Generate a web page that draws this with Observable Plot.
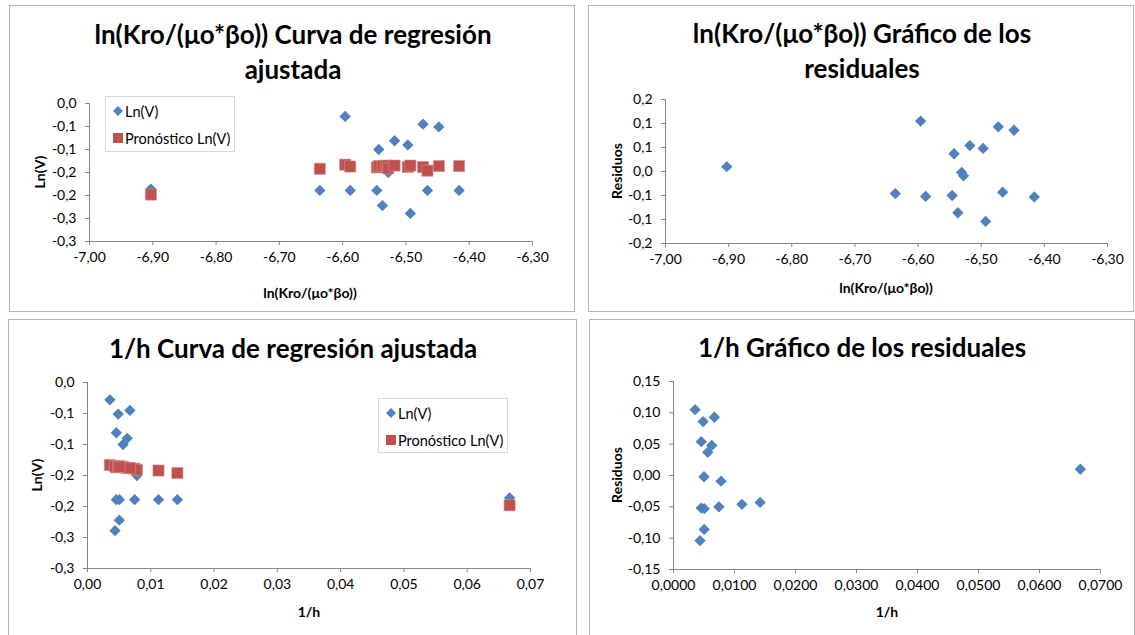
<!DOCTYPE html>
<html>
<head>
<meta charset="utf-8">
<script src="https://cdn.jsdelivr.net/npm/d3@7"></script>
<script src="https://cdn.jsdelivr.net/npm/@observablehq/plot@0.6"></script>
<style>
  html, body { margin: 0; padding: 0; background: #fff; }
  #page { position: relative; width: 1135px; height: 635px; overflow: hidden; background: #fff; font-family: Lato, "Open Sans", sans-serif; }
  .panel { position: absolute; box-sizing: border-box; border: 1px solid #b5b5b5; background: #fff; }
  .plotwrap { position: absolute; }
  .title { position: absolute; text-align: center; font-weight: bold; font-size: 26px; line-height: 35px; color: #000; white-space: nowrap; transform: translateX(-50%); }
  .xtitle { position: absolute; font-weight: bold; font-size: 14px; color: #000; white-space: nowrap; transform: translate(-50%, -50%); }
  .ytitle { position: absolute; font-weight: bold; font-size: 14px; color: #000; white-space: nowrap; transform: translate(-50%, -50%) rotate(-90deg); }
  .legend { position: absolute; box-sizing: border-box; border: 1px solid #d9d9d9; background: #fff; }
  .litem { position: absolute; left: 0; font-size: 14.5px; color: #000; white-space: nowrap; }
  .ltext { position: absolute; transform: translateY(-50%); }
  .mk-diamond { position: absolute; width: 7px; height: 7px; background: #4F81BD; transform: translate(-50%, -50%) rotate(45deg); }
  .mk-square { position: absolute; width: 10px; height: 10px; background: #C0504D; transform: translate(-50%, -50%); }
</style>
</head>
<body>
<div id="page"></div>
<script>
// ---------------- DATA ----------------
const lnKroMuBo = [-6.903, -6.596, -6.636, -6.588, -6.546, -6.543, -6.537, -6.531, -6.528, -6.518, -6.497, -6.493, -6.473, -6.466, -6.448, -6.416];
const invH      = [0.0667, 0.00354, 0.01122, 0.00455, 0.00745, 0.00562, 0.00503, 0.00500, 0.00780, 0.00456, 0.00628, 0.00435, 0.00670, 0.01420, 0.00485, 0.00505];
const lnV       = [-0.186, -0.028, -0.189, -0.189, -0.189, -0.100, -0.222, -0.136, -0.150, -0.081, -0.090, -0.239, -0.045, -0.189, -0.051, -0.189];
const pronosticoLnV = [-0.198, -0.133, -0.142, -0.137, -0.139, -0.136, -0.136, -0.135, -0.141, -0.135, -0.138, -0.135, -0.138, -0.146, -0.136, -0.136];
const residuos  = [0.010, 0.105, -0.046, -0.052, -0.050, 0.037, -0.086, -0.002, -0.009, 0.054, 0.048, -0.104, 0.093, -0.043, 0.086, -0.053];

// tick values and their labels (as printed in the reference)
const xTicksLn = [-7.0, -6.9, -6.8, -6.7, -6.6, -6.5, -6.4, -6.3];
const xTickLabelsLn = ["-7,00", "-6,90", "-6,80", "-6,70", "-6,60", "-6,50", "-6,40", "-6,30"];
const xTicksH = [0, 0.01, 0.02, 0.03, 0.04, 0.05, 0.06, 0.07];
const xTickLabelsH2 = ["0,00", "0,01", "0,02", "0,03", "0,04", "0,05", "0,06", "0,07"];
const xTickLabelsH4 = ["0,0000", "0,0100", "0,0200", "0,0300", "0,0400", "0,0500", "0,0600", "0,0700"];
const yTicksLnV = [0, -0.05, -0.1, -0.15, -0.2, -0.25, -0.3];
const yTickLabelsLnV = ["0,0", "-0,1", "-0,1", "-0,2", "-0,2", "-0,3", "-0,3"];
const yTicksRes = [0.15, 0.1, 0.05, 0, -0.05, -0.1, -0.15];
const yTickLabelsRes1 = ["0,2", "0,1", "0,1", "0,0", "-0,1", "-0,1", "-0,2"];
const yTickLabelsRes2 = ["0,15", "0,10", "0,05", "0,00", "-0,05", "-0,10", "-0,15"];

const titles = [
  ["ln(Kro/(\u03bco*\u03b2o)) Curva de regresi\u00f3n", "ajustada"],
  ["ln(Kro/(\u03bco*\u03b2o)) Gr\u00e1fico de los", "residuales"],
  ["1/h Curva de regresi\u00f3n ajustada"],
  ["1/h Gr\u00e1fico de los residuales"]
];
const xTitles = ["ln(Kro/(\u03bco*\u03b2o))", "ln(Kro/(\u03bco*\u03b2o))", "1/h", "1/h"];
const yTitles = ["Ln(V)", "Residuos", "Ln(V)", "Residuos"];
const seriesNames = ["Ln(V)", "Pron\u00f3stico Ln(V)"];

// ---------------- BUILD ----------------
const rows = lnKroMuBo.map((x, i) => ({x1: x, x2: invH[i], y: lnV[i], p: pronosticoLnV[i], r: residuos[i]}));
const page = document.getElementById("page");

const BLUE = "#4F81BD", RED = "#C0504D", AXIS = "#868686";

function fmt(ticks, labels) {
  return d => { const i = ticks.findIndex(t => Math.abs(t - d) < 1e-9); return i >= 0 ? labels[i] : ""; };
}

function addDiv(cls, style, html) {
  const d = document.createElement("div");
  d.className = cls;
  Object.assign(d.style, style);
  if (html !== undefined) d.innerHTML = html;
  page.appendChild(d);
  return d;
}

const panels = [
  {box: [9, 5, 566, 307], svg: [9, 5, 566, 307], m: [98, 43, 71, 80], xk: "x1", xd: [-7, -6.3], xt: xTicksLn, xl: xTickLabelsLn,
   yd: [-0.3, 0], yt: yTicksLnV, yl: yTickLabelsLnV, fit: true, title: [293, 17], xtp: [310, 292], ytp: [39, 172], legend: [105, 96, 130, 56]},
  {box: [588, 5, 546, 307], svg: [588, 5, 546, 307], m: [94, 27, 69, 77], xk: "x1", xd: [-7, -6.3], xt: xTicksLn, xl: xTickLabelsLn,
   yd: [-0.15, 0.15], yt: yTicksRes, yl: yTickLabelsRes1, fit: false, title: [862, 16], xtp: [886, 287], ytp: [616, 171]},
  {box: [8, 319, 569, 330], svg: [8, 319, 569, 316], m: [63, 47, 67, 79], xk: "x2", xd: [0, 0.07], xt: xTicksH, xl: xTickLabelsH2,
   yd: [-0.3, 0], yt: yTicksLnV, yl: yTickLabelsLnV, fit: true, title: [293, 331], xtp: [309, 611], ytp: [36, 475], legend: [378, 398, 130, 55]},
  {box: [589, 319, 546, 330], svg: [589, 319, 544, 316], m: [62, 33, 66, 84], xk: "x2", xd: [0, 0.07], xt: xTicksH, xl: xTickLabelsH4,
   yd: [-0.15, 0.15], yt: yTicksRes, yl: yTickLabelsRes2, fit: false, title: [862, 330], xtp: [887, 611], ytp: [616, 475]}
];

panels.forEach((c, k) => {
  addDiv("panel", {left: c.box[0] + "px", top: c.box[1] + "px", width: c.box[2] + "px", height: c.box[3] + "px"});

  const marks = [
    Plot.ruleX([c.xd[0]], {stroke: AXIS, strokeWidth: 1}),
    Plot.ruleY([c.yd[0]], {stroke: AXIS, strokeWidth: 1}),
    Plot.axisY({ticks: c.yt, tickFormat: fmt(c.yt, c.yl), tickSize: 4, tickPadding: 9, stroke: AXIS, fill: "#000", label: null}),
    Plot.axisX({ticks: c.xt, tickFormat: fmt(c.xt, c.xl), tickSize: 4, tickPadding: 7, stroke: AXIS, fill: "#000", label: null})
  ];
  if (c.fit) {
    marks.push(Plot.dot(rows, {x: c.xk, y: "y", symbol: "diamond2", r: 5.1, fill: BLUE}));
    marks.push(Plot.dot(rows, {x: c.xk, y: "p", symbol: "square", r: 6.3, fill: RED, stroke: "#d9908e", strokeWidth: 0.6}));
  } else {
    marks.push(Plot.dot(rows, {x: c.xk, y: "r", symbol: "diamond2", r: 5.1, fill: BLUE}));
  }

  const svg = Plot.plot({
    width: c.svg[2], height: c.svg[3],
    marginTop: c.m[0], marginRight: c.m[1], marginBottom: c.m[2], marginLeft: c.m[3],
    x: {domain: c.xd},
    y: {domain: c.yd},
    style: {fontFamily: "Lato, 'Open Sans', sans-serif", fontSize: "14px", background: "transparent", overflow: "visible"},
    marks
  });
  const wrap = addDiv("plotwrap", {left: c.svg[0] + "px", top: c.svg[1] + "px"});
  wrap.appendChild(svg);

  addDiv("title", {left: c.title[0] + "px", top: c.title[1] + "px"}, titles[k].join("<br>"));
  addDiv("xtitle", {left: c.xtp[0] + "px", top: c.xtp[1] + "px"}, xTitles[k]);
  addDiv("ytitle", {left: c.ytp[0] + "px", top: c.ytp[1] + "px"}, yTitles[k]);

  if (c.legend) {
    const [lx, ly, lw, lh] = c.legend;
    const lg = addDiv("legend", {left: lx + "px", top: ly + "px", width: lw + "px", height: lh + "px"});
    [["mk-diamond", 15], ["mk-square", 42]].forEach(([cls, dy], j) => {
      const mk = document.createElement("div");
      mk.className = cls;
      Object.assign(mk.style, {left: "12px", top: (dy - 1) + "px"});
      lg.appendChild(mk);
      const t = document.createElement("div");
      t.className = "litem ltext";
      Object.assign(t.style, {left: "19px", top: (dy - 1) + "px"});
      t.textContent = seriesNames[j];
      lg.appendChild(t);
    });
  }
});
</script>
</body>
</html>
